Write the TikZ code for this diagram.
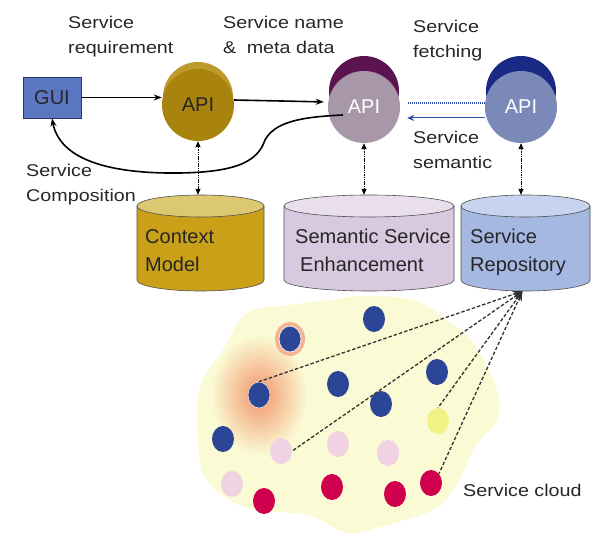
\documentclass[tikz,border=0pt]{standalone}
\usepackage{fontspec}
\setmainfont{Liberation Sans}
\usetikzlibrary{arrows.meta,shapes.geometric}
\definecolor{cloudc}{HTML}{FAFAD4}
\definecolor{haloc}{HTML}{F2946A}
\definecolor{dotblue}{HTML}{2B4696}
\definecolor{dotpink}{HTML}{F0D2E2}
\definecolor{dotred}{HTML}{D0004E}
\definecolor{dotyel}{HTML}{F2F284}
\definecolor{apiAc}{HTML}{A8840E}
\definecolor{apiAb}{HTML}{BE9A2C}
\definecolor{apiBc}{HTML}{A797A8}
\definecolor{apiBb}{HTML}{5C1450}
\definecolor{apiCc}{HTML}{7A89B8}
\definecolor{apiCb}{HTML}{1A2A84}
\definecolor{guic}{HTML}{5B77C2}
\definecolor{guib}{HTML}{263870}
\definecolor{cmbody}{HTML}{C9A018}
\definecolor{cmtop}{HTML}{DCC870}
\definecolor{ssbody}{HTML}{D8C8E0}
\definecolor{sstop}{HTML}{E8DEEC}
\definecolor{rpbody}{HTML}{A4B8E2}
\definecolor{rptop}{HTML}{C6D4F0}
\definecolor{cylborder}{HTML}{505050}
\definecolor{bluel}{HTML}{3050A8}
\tikzset{
 lbl/.style={font=\fontsize{17}{25}\selectfont, xscale=1.16, align=left, inner sep=0pt, anchor=north west, text=black!85},
 cyltxt/.style={font=\fontsize{20}{28}\selectfont, align=left, inner sep=0pt, anchor=north west, text=black!85},
 apinode/.style={circle, minimum size=72pt, inner sep=0pt, font=\fontsize{20}{24}\selectfont},
 dotnode/.style={ellipse, minimum width=22pt, minimum height=26pt, inner sep=0pt},
 arr/.style={line width=1.6pt, -{Stealth[length=8pt,width=6pt]}},
 darr/.style={line width=0.9pt, dash pattern=on 1.5pt off 0.8pt, {Triangle[length=6pt,width=5pt]}-{Triangle[length=6pt,width=5pt]}},
 barr/.style={line width=1pt, draw=bluel},
 dsh/.style={line width=1.3pt, dash pattern=on 3.5pt off 2pt, draw=black!80}
}
\newcommand\mycyl[8]{%
 \pgfmathsetmacro\cyX{(#2+#3)/2}%
 \pgfmathsetmacro\cyR{(#3-#2)/2}%
 \pgfmathsetmacro\cyM{(#4+#5)/2}%
 \pgfmathsetmacro\cyH{#5-#4+2*#6}%
 \pgfmathsetmacro\cyW{#3-#2}%
 \filldraw[fill=#7, draw=cylborder, line width=0.6pt] (#2,#4) -- (#2,#5) arc[start angle=180, end angle=0, x radius=\cyR, y radius=#6] -- (#3,#4) -- cycle;
 \filldraw[fill=#8, draw=cylborder, line width=0.6pt] (\cyX,#4) ellipse [x radius=\cyR, y radius=#6];
 \node[minimum width=\cyW pt, minimum height=\cyH pt, inner sep=0pt] (#1) at (\cyX,\cyM) {};
}
\begin{document}
\begin{tikzpicture}[x=1pt,y=-1pt]
\useasboundingbox (0,0) rectangle (598,537);
% cloud
\fill[cloudc] plot[smooth cycle, tension=0.6] coordinates {(200,387) (223,350) (247,313) (290,305) (330,300) (363,296) (413,300) (447,320) (475,345) (497,390) (497,420) (475,447) (455,487) (433,510) (380,527) (347,533) (307,515) (247,508) (207,480) (198,440)};
% halos
\begin{scope}
\clip plot[smooth cycle, tension=0.6] coordinates {(200,387) (223,350) (247,313) (290,305) (330,300) (363,296) (413,300) (447,320) (475,345) (497,390) (497,420) (475,447) (455,487) (433,510) (380,527) (347,533) (307,515) (247,508) (207,480) (198,440)};
\shade[inner color=haloc, outer color=cloudc] (259,395) ellipse [x radius=48pt, y radius=60pt];
\end{scope}
\fill[haloc!70] (290,339) ellipse [x radius=15pt, y radius=17pt];
% dots
\node[dotnode, fill=dotblue] (b1) at (374,319) {};
\node[dotnode, fill=dotblue, draw=white!80!haloc, line width=0.8pt] (b2) at (290,339) {};
\node[dotnode, fill=dotblue, draw=white!70!haloc, line width=0.6pt] (b3) at (259,395) {};
\node[dotnode, fill=dotblue] (b4) at (338,384) {};
\node[dotnode, fill=dotblue] (b5) at (381,404) {};
\node[dotnode, fill=dotblue] (b6) at (437,372) {};
\node[dotnode, fill=dotblue] (b7) at (223,439) {};
\node[dotnode, fill=dotyel] (y1) at (438,421) {};
\node[dotnode, fill=dotpink] (p1) at (281,451) {};
\node[dotnode, fill=dotpink] (p2) at (338,444) {};
\node[dotnode, fill=dotpink] (p3) at (388,453) {};
\node[dotnode, fill=dotpink] (p4) at (232,484) {};
\node[dotnode, fill=dotred] (r1) at (264,501) {};
\node[dotnode, fill=dotred] (r2) at (332,487) {};
\node[dotnode, fill=dotred] (r3) at (395,494) {};
\node[dotnode, fill=dotred] (r4) at (431,483) {};
% cylinders
\mycyl{cm}{137}{264}{206}{280}{11}{cmbody}{cmtop}
\mycyl{sse}{284}{454}{206}{280}{11}{ssbody}{sstop}
\mycyl{repo}{461}{590}{206}{280}{11}{rpbody}{rptop}
\node[cyltxt] (t1) at (145,229) {Context\\Model};
\node[cyltxt] (t2) at (295,229) {Semantic Service\\\hspace*{5pt}Enhancement};
\node[cyltxt] (t3) at (470,229) {Service\\Repository};
% API discs
\fill[apiAb] (198,97) circle (35pt);
\node[apinode, fill=apiAc, text=black!85] (api1) at (198,105) {API};
\fill[apiBb] (364,91) circle (35pt);
\node[apinode, fill=apiBc, text=white] (api2) at (364,107) {API};
\fill[apiCb] (521,91) circle (35pt);
\node[apinode, fill=apiCc, text=white] (api3) at (521,107) {API};
% GUI
\node[draw=guib, fill=guic, line width=0.8pt, minimum width=58pt, minimum height=41pt, inner sep=0pt, font=\fontsize{20}{24}\selectfont, text=black!85] (gui) at (52,97.5) {GUI};
% connectors
\draw[arr] (gui.east) -- (gui.east -| api1.west);
\draw[arr, shorten >=4pt] ([yshift=5pt]api1.east) -- ([yshift=5pt]api2.west);
\draw[arr] ([xshift=-21pt,yshift=-8pt]api2.center) .. controls (300,117) and (275,122) .. (265,140) .. controls (258,160) and (240,172) .. (180,173) .. controls (110,174) and (60,160) .. (gui.south);
\draw[barr, densely dotted, line width=1.2pt, shorten >=7pt] ([yshift=4pt]api3.west) -- ([yshift=4pt]api2.east);
\draw[barr, -{Stealth[length=7pt,width=6pt]}, shorten >=7pt] ([yshift=-11pt]api3.west) -- ([yshift=-11pt]api2.east);
\draw[darr] (api1.south) -- (api1.south |- cm.north);
\draw[darr] (api2.south) -- (api2.south |- sse.north);
\draw[darr] (api3.south) -- (api3.south |- repo.north);
\draw[dsh, {Stealth[length=10pt,width=7pt]}-] ([xshift=-3pt]repo.south) -- (b3.north);
\draw[dsh, {Stealth[length=10pt,width=7pt]}-] ([xshift=-3pt]repo.south) -- (p1.east);
\draw[dsh, {Stealth[length=10pt,width=7pt]}-] ([xshift=-3pt]repo.south) -- (y1.north);
\draw[dsh, {Stealth[length=10pt,width=7pt]}-] ([xshift=-3pt]repo.south) -- (r4.north east);
% labels
\node[lbl] (l1) at (68,16) {Service\\requirement};
\node[lbl] (l2) at (223,16) {Service name\\\&\hspace{9pt}meta data};
\node[lbl] (l3) at (413,20) {Service\\fetching};
\node[lbl] (l4) at (413,131) {Service\\semantic};
\node[lbl] (l5) at (26,164) {Service\\Composition};
\node[lbl] (l6) at (463,484) {Service cloud};
\end{tikzpicture}
\end{document}
